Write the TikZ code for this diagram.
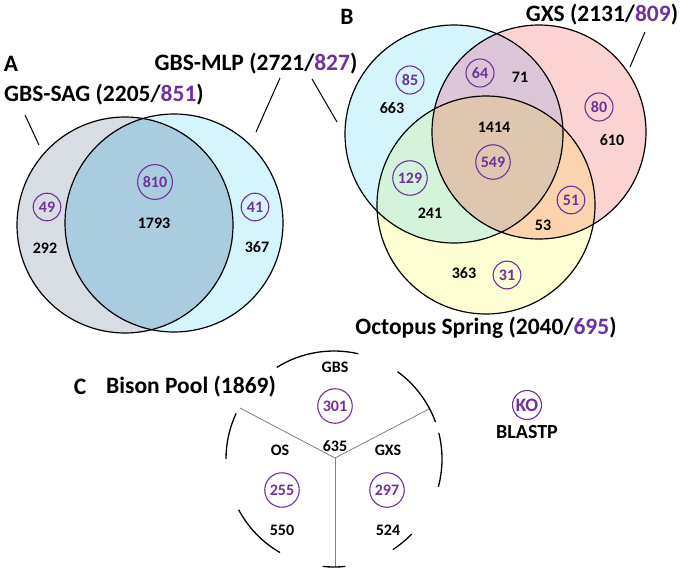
\documentclass[tikz,border=0pt]{standalone}
\usepackage{fontspec}
\setmainfont{Carlito}
\definecolor{vpurple}{HTML}{7030A0}
\definecolor{agray}{HTML}{D8DDE4}
\definecolor{acyan}{HTML}{D4F5FC}
\definecolor{ablue}{HTML}{AACCDF}
\definecolor{bpink}{HTML}{FCD3D3}
\definecolor{byellow}{HTML}{FEFED3}
\definecolor{bcp}{HTML}{DCC5D6}
\definecolor{bcy}{HTML}{D3F4DA}
\definecolor{bpy}{HTML}{FCD3AF}
\definecolor{ball}{HTML}{DEC6AF}
\tikzset{
  lbl/.style={font=\fontsize{23.5}{26}\selectfont\bfseries, inner sep=0pt},
  num/.style={font=\fontsize{16}{18}\selectfont\bfseries, inner sep=0pt},
  pnum/.style={font=\fontsize{16}{18}\selectfont\bfseries, text=vpurple, draw=vpurple, circle, line width=1.1pt, inner sep=3pt},
  venn/.style={draw=black, line width=1.2pt},
  leader/.style={draw=black, line width=1pt},
  spoke/.style={draw=gray, line width=0.8pt},
  rim/.style={draw=black, line width=1.3pt},
}
\begin{document}
\begin{tikzpicture}[x=1pt,y=-1pt]
\useasboundingbox (0,0) rectangle (680,570);
\fill[white] (0,0) rectangle (680,570);
% ---------- Panel A ----------
\fill[agray] (125,225) circle[radius=108pt];
\fill[acyan] (174,223) circle[radius=109pt];
\begin{scope}
  \clip (125,225) circle[radius=108pt];
  \fill[ablue] (174,223) circle[radius=109pt];
\end{scope}
\draw[venn] (125,225) circle[radius=108pt];
\draw[venn] (174,223) circle[radius=109pt];
\node[lbl] (labA) at (11,64) {A};
\node[lbl] (sagl) at (104,95) {GBS-SAG (2205/\textcolor{vpurple}{851})};
\node[lbl] (mlpl) at (256,64) {GBS-MLP (2721/\textcolor{vpurple}{827})};
\coordinate (s1) at (25,115); \coordinate (s2) at (39,145);
\draw[leader] (s1) -- (s2);
\coordinate (m1) at (280,78); \coordinate (m2) at (256,132);
\draw[leader] (m1) -- (m2);
\coordinate (m3) at (312,79); \coordinate (m4) at (337,122);
\draw[leader] (m3) -- (m4);
\node[pnum] (a49) at (47,207) {49};
\node[num] (a292) at (45,248) {292};
\node[pnum] (a810) at (155,182) {810};
\node[num] (a1793) at (154,223) {1793};
\node[pnum] (a41) at (255,207) {41};
\node[num] (a367) at (257,247) {367};
% ---------- Panel B ----------
\fill[acyan] (454,134) circle[radius=109pt];
\fill[bpink] (539,132) circle[radius=107pt];
\fill[byellow] (486,205) circle[radius=109pt];
\begin{scope}
  \clip (454,134) circle[radius=109pt];
  \fill[bcp] (539,132) circle[radius=107pt];
  \fill[bcy] (486,205) circle[radius=109pt];
\end{scope}
\begin{scope}
  \clip (539,132) circle[radius=107pt];
  \fill[bpy] (486,205) circle[radius=109pt];
\end{scope}
\begin{scope}
  \clip (454,134) circle[radius=109pt];
  \clip (539,132) circle[radius=107pt];
  \fill[ball] (486,205) circle[radius=109pt];
\end{scope}
\draw[venn] (454,134) circle[radius=109pt];
\draw[venn] (539,132) circle[radius=107pt];
\draw[venn] (486,205) circle[radius=109pt];
\node[lbl] (labB) at (347,17) {B};
\node[lbl] (gxsl) at (602,15) {GXS (2131/\textcolor{vpurple}{809})};
\node[lbl] (osl) at (486,328) {Octopus Spring (2040/\textcolor{vpurple}{695})};
\coordinate (g1) at (645,32); \coordinate (g2) at (630,67);
\draw[leader] (g1) -- (g2);
\node[pnum] (b85) at (410,80) {85};
\node[num] (b663) at (392,108) {663};
\node[pnum] (b64) at (480,73) {64};
\node[num] (b71) at (520,77) {71};
\node[pnum] (b80) at (599,107) {80};
\node[num] (b610) at (612,140) {610};
\node[num] (b1414) at (494,127) {1414};
\node[pnum] (b549) at (493,162) {549};
\node[pnum] (b129) at (410,178) {129};
\node[num] (b241) at (430,213) {241};
\node[pnum] (b51) at (571,200) {51};
\node[num] (b53) at (543,225) {53};
\node[num] (b363) at (464,273) {363};
\node[pnum] (b31) at (507,275) {31};
% ---------- Panel C ----------
\node[lbl] (labC) at (80,387) {C};
\node[lbl] (bpl) at (191,387) {Bison Pool (1869)};
\coordinate (ctr) at (335,458);
\coordinate (ul) at (240,408);
\coordinate (ur) at (429,409);
\coordinate (dn) at (335,567);
\draw[spoke] (ctr) -- (ul);
\draw[spoke] (ctr) -- (ur);
\draw[spoke] (ctr) -- (dn);
\coordinate (rc) at (334,459);
\draw[rim] (rc) ++(77:108pt) arc[start angle=77, end angle=122, radius=108pt];
\draw[rim] (rc) ++(20:108pt) arc[start angle=20, end angle=54, radius=108pt];
\draw[rim] (rc) ++(-15:108pt) arc[start angle=-15, end angle=14, radius=108pt];
\draw[rim] (rc) ++(-57:108pt) arc[start angle=-57, end angle=-44, radius=108pt];
\draw[rim] (rc) ++(-96:108pt) arc[start angle=-96, end angle=-84, radius=108pt];
\draw[rim] (rc) ++(-152:108pt) arc[start angle=-152, end angle=-120, radius=108pt];
\draw[rim] (rc) ++(155:108pt) arc[start angle=155, end angle=180, radius=108pt];
\node[num] (cgbs) at (335,367) {GBS};
\node[pnum] (c301) at (335,406) {301};
\node[num] (c635) at (335,446) {635};
\node[num] (cos) at (280,450) {OS};
\node[num] (cgxs) at (388,450) {GXS};
\node[pnum] (c255) at (282,490) {255};
\node[pnum] (c297) at (387,490) {297};
\node[num] (c550) at (282,530) {550};
\node[num] (c524) at (388,530) {524};
\node[pnum, font=\fontsize{19}{21}\selectfont\bfseries, inner sep=1.2pt] (ko) at (527,405) {KO};
\node[font=\fontsize{20}{22}\selectfont\bfseries, inner sep=0pt] (blastp) at (527,432) {BLASTP};
\end{tikzpicture}
\end{document}
